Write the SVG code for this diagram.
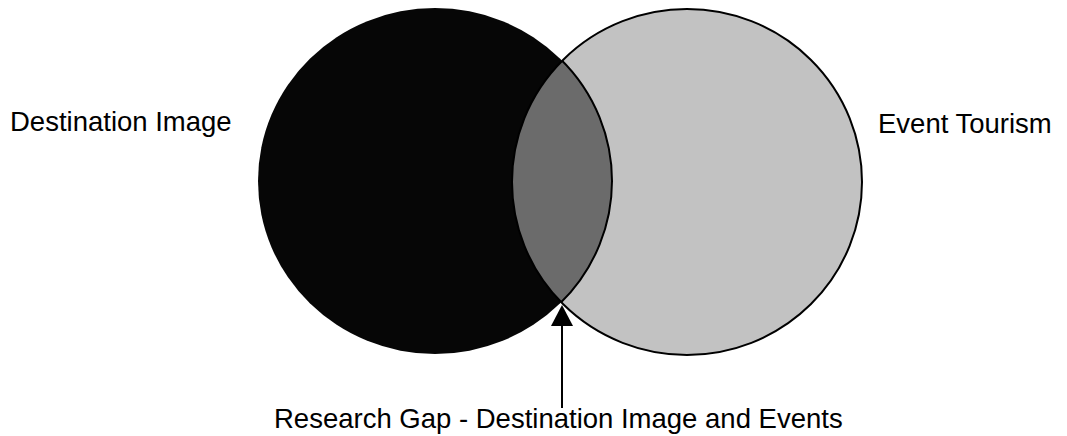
<svg xmlns="http://www.w3.org/2000/svg" width="1067" height="436" viewBox="0 0 1067 436">
<style>
.lbl{font-family:"Liberation Sans",Arial,sans-serif;font-size:27.5px;fill:#000}
.edge{fill:none;stroke:#000;stroke-width:2}
</style>
<defs>
<clipPath id="clipL"><ellipse cx="435" cy="181" rx="177" ry="173"/></clipPath>
<clipPath id="clipR"><ellipse cx="687" cy="182" rx="175" ry="173"/></clipPath>
</defs>
<rect width="1067" height="436" fill="#fff"/>
<g id="destination-image">
<ellipse cx="435" cy="181" rx="177" ry="173" fill="#060606"/>
</g>
<g id="event-tourism">
<ellipse cx="687" cy="182" rx="175" ry="173" fill="#c2c2c2"/>
</g>
<g id="research-gap">
<ellipse cx="687" cy="182" rx="175" ry="173" fill="#6b6b6b" clip-path="url(#clipL)"/>
<ellipse cx="435" cy="181" rx="177" ry="173" class="edge" clip-path="url(#clipR)"/>
</g>
<g id="outlines">
<ellipse cx="687" cy="182" rx="175" ry="173" class="edge"/>
</g>
<g id="connectors">
<line x1="562" y1="325" x2="562" y2="408" stroke="#000" stroke-width="2"/>
<polygon points="562,305 551,326 573,326" fill="#000"/>
</g>
<g id="labels">
<text class="lbl" x="10" y="131">Destination Image</text>
<text class="lbl" x="878" y="133">Event Tourism</text>
<text class="lbl" x="274" y="428">Research Gap - Destination Image and Events</text>
</g>
</svg>
